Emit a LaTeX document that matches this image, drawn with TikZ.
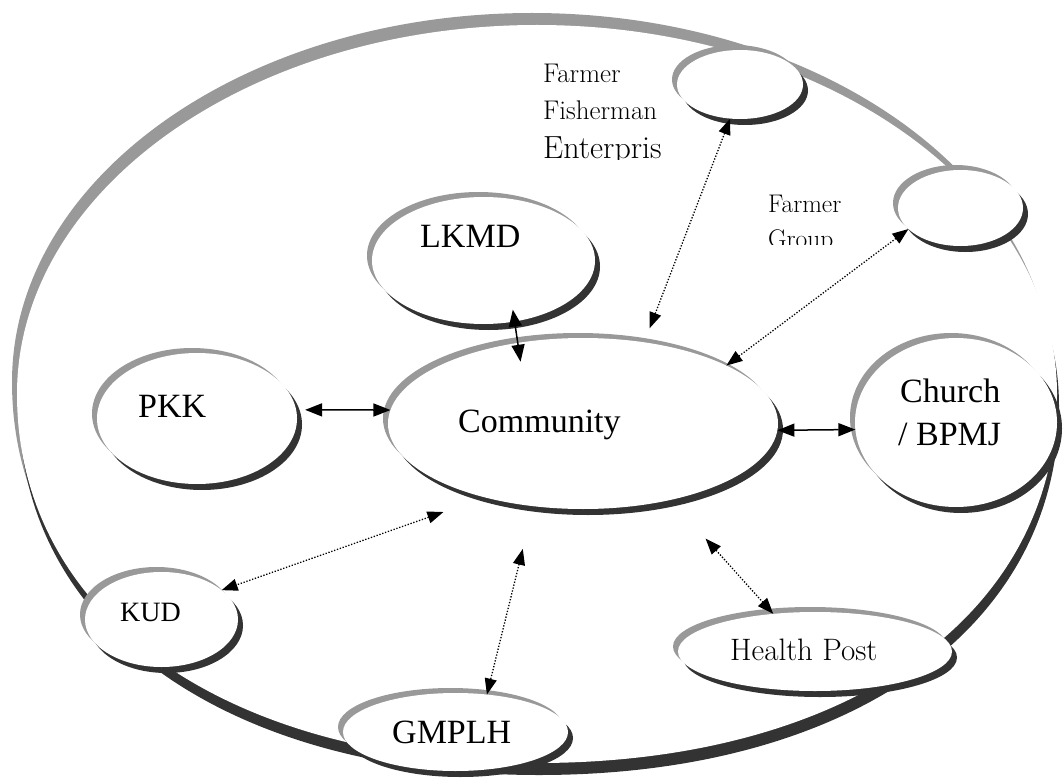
\documentclass[tikz,border=0pt]{standalone}
\usepackage{fontspec}
\newfontfamily\timesfont{Liberation Serif}
\usetikzlibrary{shapes.geometric,shadows,arrows.meta}
\definecolor{ringgray}{HTML}{999999}
\definecolor{ringdark}{HTML}{333333}

\begin{document}
\begin{tikzpicture}[
        x=1pt, y=-1pt,
        bubble/.style={ellipse, fill=white, inner sep=0pt, outer sep=0pt,
            general shadow={fill=ringgray, shadow xshift=-5pt, shadow yshift=5pt},
            general shadow={fill=ringdark, shadow xshift=5pt, shadow yshift=-6pt}},
        lbl/.style={inner sep=0pt, anchor=base west, font=\timesfont\fontsize{34}{34}\selectfont},
        lmlbl/.style={inner sep=0pt, anchor=base west, font=\fontsize{27}{27}\selectfont},
        link/.style={{Triangle[length=17pt,width=13pt]}-{Triangle[length=17pt,width=13pt]}, line width=1.5pt},
        dotlink/.style={{Triangle[length=16pt,width=12pt]}-{Triangle[length=16pt,width=12pt]}, line width=1.3pt, dash pattern=on 1.3pt off 1.7pt}
    ]
        \useasboundingbox (0,0) rectangle (1063,781);

        % Outer ring (gray top, dark bottom, white inside)
        \foreach \dx/\dy/\col in {-5/-12/ringgray, 2/12/ringdark, 0/0/white}
            \fill[\col, shift={(\dx,\dy)}] (17,394) .. controls (17,190) and (250,25) .. (537,25)
                .. controls (824,25) and (1057,190) .. (1057,394)
                .. controls (1057,615) and (849,763) .. (537,763)
                .. controls (225,763) and (17,615) .. (17,394) -- cycle;

        % Bubbles
        \node[bubble, minimum width=390pt, minimum height=171pt] (comm) at (583,423.5) {};
        \node[bubble, minimum width=223pt, minimum height=127pt] (lkmd) at (483.5,260.5) {};
        \node[bubble, minimum width=200pt, minimum height=131pt] (pkk) at (197,418.5) {};
        \node[bubble, minimum width=153pt, minimum height=95pt] (kud) at (161.5,619.5) {};
        \node[bubble, minimum width=225pt, minimum height=78pt] (gmplh) at (455.5,732) {};
        \node[bubble, minimum width=274pt, minimum height=79pt] (hpost) at (815,651.5) {};
        \node[bubble, minimum width=202pt, minimum height=169pt] (church) at (956,422.5) {};
        \node[bubble, minimum width=126pt, minimum height=69pt] (ffe) at (740,84.5) {};
        \node[bubble, minimum width=125pt, minimum height=76pt] (fgroup) at (960.5,208) {};

        % Labels
        \node[lbl] (commtxt) at (458,432) {Community};
        \node[lbl] (lkmdtxt) at (420,247) {LKMD};
        \node[lbl] (pkktxt) at (138,417) {PKK};
        \node[lbl, font=\timesfont\fontsize{28}{28}\selectfont] (kudtxt) at (120,621) {KUD};
        \node[lbl] (gmplhtxt) at (392,743) {GMPLH};
        \node[lbl] (churchtxt) at (900,402) {Church};
        \node[lbl] (bpmjtxt) at (898,445) {/ BPMJ};
        \node[lmlbl, font=\fontsize{31}{31}\selectfont] (hposttxt) at (730,660) {Health Post};
        \begin{scope}
            \clip (530,40) rectangle (690,160);
            \node[lmlbl] (ffetxta) at (543,83) {Farmer};
            \node[lmlbl] (ffetxtb) at (543,120) {Fisherman};
            \node[lmlbl, font=\fontsize{32}{32}\selectfont] (ffetxtc) at (543,158) {Enterpris};
        \end{scope}
        \begin{scope}
            \clip (755,170) rectangle (880,244);
            \node[lmlbl, font=\fontsize{25.5}{25.5}\selectfont] (fgtxta) at (768,212) {Farmer};
            \node[lmlbl, font=\fontsize{25.5}{25.5}\selectfont] (fgtxtb) at (768,247) {Group};
        \end{scope}

        % Solid links
        \draw[link, shorten <=9pt] (pkk.5) -- (comm.176);
        \draw[link] (comm.-2) -- (church.184);
        \draw[link, shorten <=-12pt, shorten >=-19pt] (lkmd.-63) -- (comm.129);

        % Dotted links
        \draw[dotlink, shorten >=15pt] (ffe.254) -- (comm.53);
        \draw[dotlink] (fgroup.202) -- (comm.22);
        \draw[dotlink, shorten <=44pt] (comm.217) -- (kud.26);
        \draw[dotlink, shorten <=44pt] (comm.239) -- (gmplh.50);
        \draw[dotlink, shorten <=52pt] (comm.-41) -- (hpost.138);
\end{tikzpicture}
\end{document}
